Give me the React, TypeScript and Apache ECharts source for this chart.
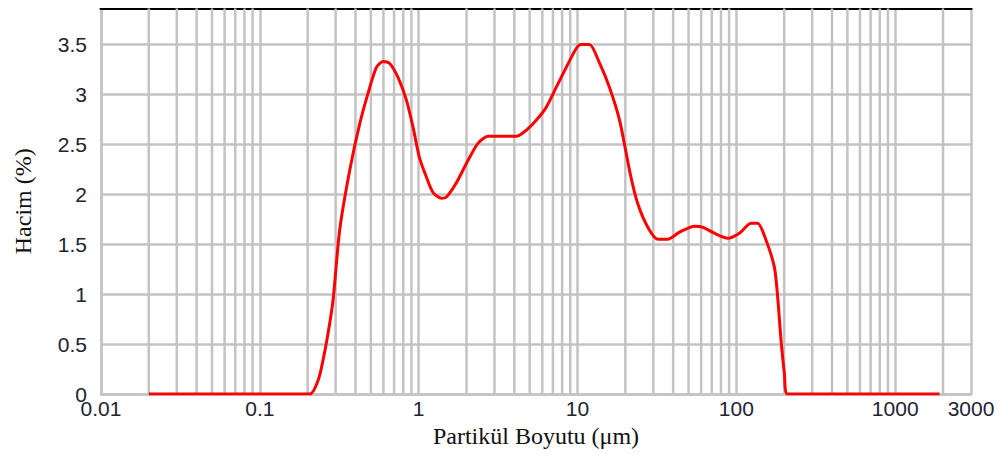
import React, { useEffect, useRef } from "react";
import * as echarts from "echarts";

// Particle size (µm) and volume (%)
const sizes = [
  0.02, 0.206, 0.233, 0.25, 0.269, 0.289, 0.318, 0.368, 0.426, 0.492, 0.542,
  0.596, 0.657, 0.741, 0.838, 0.922, 1.01, 1.12, 1.23, 1.39, 1.49, 1.72, 2.0,
  2.36, 2.73, 3.23, 4.11, 4.75, 5.49, 6.35, 7.34, 8.49, 9.81, 10.5, 11.9, 13.7,
  15.9, 18.4, 21.5, 23.9, 27.7, 32.0, 37.0, 43.8, 54.5, 61.4, 72.7, 88.2, 104.5,
  123.7, 136.1, 153.8, 173.5, 182, 191, 200.5, 210, 1900,
];
const volumes = [
  0, 0, 0.14, 0.34, 0.61, 0.94, 1.64, 2.24, 2.71, 3.07, 3.27, 3.33, 3.31, 3.17,
  2.94, 2.67, 2.37, 2.17, 2.02, 1.96, 1.97, 2.11, 2.31, 2.51, 2.58, 2.58, 2.58,
  2.64, 2.74, 2.87, 3.07, 3.27, 3.46, 3.5, 3.5, 3.32, 3.07, 2.74, 2.2, 1.91,
  1.67, 1.55, 1.55, 1.62, 1.68, 1.67, 1.61, 1.56, 1.61, 1.71, 1.71, 1.54, 1.27,
  0.97, 0.54, 0.21, 0, 0,
];

// Axis extents and tick settings
const xMin = 0.01;
const xMax = 3000;
const yMin = 0;
const yMax = 3.86;
const yInterval = 0.5;

// Minor (2..9 per decade) grid line positions on the log axis
const minorGrid = [
  0.02, 0.03, 0.04, 0.05, 0.06, 0.07, 0.08, 0.09,
  0.2, 0.3, 0.4, 0.5, 0.6, 0.7, 0.8, 0.9,
  2, 3, 4, 5, 6, 7, 8, 9,
  20, 30, 40, 50, 60, 70, 80, 90,
  200, 300, 400, 500, 600, 700, 800, 900,
  2000,
];

const xTitle = "Partikül Boyutu (μm)";
const yTitle = "Hacim (%)";

const GRID = "#c3c3c3";
const GRID_W = 2.5;
const LABEL = "#222233";

export default function App() {
  const ref = useRef<HTMLDivElement>(null);

  useEffect(() => {
    if (!ref.current) return;
    const chart = echarts.init(ref.current, null, { renderer: "svg" });
    const fmt = (v: number) => (v >= 1 ? String(Math.round(v)) : String(Number(v.toPrecision(3))));
    chart.setOption({
      animation: false,
      backgroundColor: "#ffffff",
      grid: { left: 101, right: 33, top: 8.5, bottom: 61, containLabel: false },
      xAxis: [
        {
          type: "log",
          logBase: 10,
          min: xMin,
          max: xMax,
          name: xTitle,
          nameLocation: "middle",
          nameGap: 30,
          nameTextStyle: { fontFamily: "Liberation Serif", fontSize: 24, color: "#111111" },
          axisLine: { show: true, lineStyle: { color: GRID, width: GRID_W } },
          axisTick: { show: false },
          axisLabel: {
            fontFamily: "Liberation Sans",
            fontSize: 21,
            color: LABEL,
            margin: 4,
            formatter: fmt,
            showMinLabel: true,
            showMaxLabel: true,
          },
          splitLine: { show: true, lineStyle: { color: GRID, width: GRID_W } },
          minorTick: { show: false },
          minorSplitLine: { show: false },
        },
        {
          type: "log",
          logBase: 10,
          min: xMin,
          max: xMax,
          position: "top",
          axisLine: { show: true, onZero: false, lineStyle: { color: "#000000", width: 3 } },
          axisTick: { show: false },
          axisLabel: { show: false },
          splitLine: { show: false },
        },
      ],
      yAxis: {
        type: "value",
        min: yMin,
        max: yMax,
        interval: yInterval,
        name: yTitle,
        nameLocation: "middle",
        nameGap: 66,
        nameTextStyle: { fontFamily: "Liberation Serif", fontSize: 24, color: "#111111" },
        axisLine: { show: true, lineStyle: { color: GRID, width: GRID_W } },
        axisTick: { show: false },
        axisLabel: {
          fontFamily: "Liberation Sans",
          fontSize: 21,
          color: LABEL,
          margin: 14,
          showMaxLabel: false,
          formatter: (v: number) => String(v),
        },
        splitLine: { show: true, lineStyle: { color: GRID, width: GRID_W } },
      },
      series: [
        {
          type: "custom",
          xAxisIndex: 0,
          z: 1,
          silent: true,
          data: minorGrid.map((x) => [x, 0]),
          renderItem: (params: any, api: any) => {
            const x = api.value(0);
            const p0 = api.coord([x, yMin]);
            const p1 = api.coord([x, yMax]);
            return {
              type: "line",
              shape: { x1: p0[0], y1: p0[1], x2: p1[0], y2: p1[1] },
              style: { stroke: GRID, lineWidth: GRID_W },
            };
          },
        },
        {
          type: "line",
          xAxisIndex: 0,
          z: 5,
          data: sizes.map((s, i) => [s, volumes[i]]),
          showSymbol: false,
          symbol: "none",
          smooth: 0.25,
          lineStyle: { color: "#ff0000", width: 3 },
        },
      ],
    });
    return () => chart.dispose();
  }, []);

  return <div ref={ref} style={{ width: 1004, height: 455, marginLeft: -8, marginTop: -8 }} />;
}
